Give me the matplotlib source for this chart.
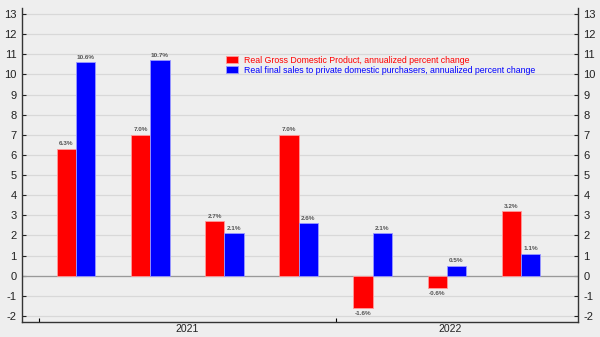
import matplotlib.pyplot as plt
import numpy as np

plt.rcParams["font.family"] = ["Liberation Sans", "DejaVu Sans"]
plt.rcParams["axes.unicode_minus"] = False

## data
quarters = ["2021Q1", "2021Q2", "2021Q3", "2021Q4", "2022Q1", "2022Q2", "2022Q3"]
gdp = [6.3, 7.0, 2.7, 7.0, -1.6, -0.6, 3.2]
final_sales = [10.6, 10.7, 2.1, 2.6, 2.1, 0.5, 1.1]
gdp_label = "Real Gross Domestic Product, annualized percent change"
sales_label = "Real final sales to private domestic purchasers, annualized percent change"
year_labels = ["2021", "2022"]
year_bounds = [-0.5, 3.5]
year_centers = [1.5, 5.05]

BG = "#eeeeee"
BAR_W = 0.26


def main() -> None:
    fig = plt.figure(figsize=(6.0, 3.37), dpi=100, facecolor=BG)
    ax = fig.add_axes([0.0367, 0.0445, 0.9266, 0.9315], facecolor=BG)
    x = np.arange(len(quarters))

    ax.bar(x - BAR_W / 2, gdp, BAR_W, color="#ff0000", edgecolor="#ff9a9a",
           linewidth=0.6, label=gdp_label, zorder=3)
    ax.bar(x + BAR_W / 2, final_sales, BAR_W, color="#0000ff", edgecolor="#9a9aff",
           linewidth=0.6, label=sales_label, zorder=3)

    for xi, v in zip(x - BAR_W / 2, gdp):
        ax.annotate(f"{v:.1f}%", (xi, v), xytext=(0, 2 if v >= 0 else -2),
                    textcoords="offset points", ha="center",
                    va="bottom" if v >= 0 else "top",
                    fontsize=4.6, fontweight="bold", color="#555555")
    for xi, v in zip(x + BAR_W / 2, final_sales):
        ax.annotate(f"{v:.1f}%", (xi, v), xytext=(0, 2 if v >= 0 else -2),
                    textcoords="offset points", ha="center",
                    va="bottom" if v >= 0 else "top",
                    fontsize=4.6, fontweight="bold", color="#555555")

    ax.set_xlim(-0.73, 6.77)
    ax.set_ylim(-2.3, 13.3)
    ax.set_yticks(range(-2, 14))
    ax.yaxis.grid(True, color="#d8d8d8", linewidth=0.9, zorder=0)
    ax.axhline(0, color="#999999", linewidth=0.9, zorder=2)

    ax.tick_params(axis="y", which="both", direction="in", length=3, width=0.8,
                   labelsize=8, colors="#222222", left=True, right=True,
                   labelleft=True, labelright=True, pad=4)
    ax.set_xticks(year_bounds)
    ax.set_xticklabels([])
    ax.set_xticks(year_centers, minor=True)
    ax.set_xticklabels(year_labels, minor=True)
    ax.tick_params(axis="x", which="major", direction="in", length=3, width=0.8)
    ax.tick_params(axis="x", which="minor", length=0, labelsize=7.5,
                   colors="#222222", pad=1.5)

    for side in ["left", "right", "bottom"]:
        ax.spines[side].set_color("#333333")
        ax.spines[side].set_linewidth(1.0)
    ax.spines["top"].set_visible(False)

    leg = ax.legend(loc="upper left", bbox_to_anchor=(0.361, 0.86), frameon=False,
                    fontsize=6.3, handlelength=1.4, handleheight=0.8,
                    handletextpad=0.6, labelspacing=0.15, borderaxespad=0)
    for text, color in zip(leg.get_texts(), ["#ff0000", "#0000ff"]):
        text.set_color(color)

    fig.savefig("out.png", dpi=100, facecolor=BG)


if __name__ == "__main__":
    main()
